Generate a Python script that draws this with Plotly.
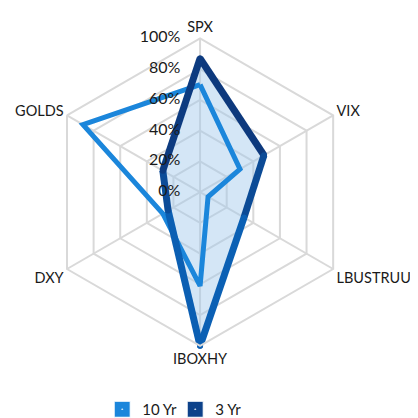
import math

import plotly.graph_objects as go

CATEGORIAS = ["SPX", "VIX", "LBUSTRUU", "IBOXHY", "DXY", "GOLDS"]
DEZ_ANOS = [0.70, 0.30, 0.06, 0.61, 0.28, 0.88]
TRES_ANOS = [0.87, 0.48, 0.33, 1.00, 0.24, 0.28]
TICKS = [0, 0.2, 0.4, 0.6, 0.8, 1.0]
TICK_TXT = ["0%", "20%", "40%", "60%", "80%", "100%"]

AZUL = "#1B86DB"
MARINHO = (14, 42, 104)     # topo do gradiente da linha 3 Yr
AZUL_VIVO = (10, 110, 200)  # base do gradiente
PREENCH = "rgba(160,200,234,0.45)"
GRADE = "#D9D9D9"
TINTA = "#1A1A1A"
FONTE = "Lato, 'Open Sans', sans-serif"
DOMINIO = dict(x=[0.0, 0.919], y=[0.180, 0.926])


def _fechar(v):
    return list(v) + [v[0]]


def _cor(t):
    c = [round(a + (b - a) * t) for a, b in zip(MARINHO, AZUL_VIVO)]
    return "rgb(%d,%d,%d)" % tuple(c)


def _tom(i, r):
    # posição vertical do vértice (rotation 90, sentido horário) -> 0 topo, 1 base
    ang = math.radians(90 - 60 * i)
    return (1 - r * math.sin(ang)) / 2


cats = _fechar(CATEGORIAS)

fig = go.Figure()
fig.add_scatterpolar(r=_fechar(TRES_ANOS), theta=cats, mode="none", fill="toself",
                     fillcolor=PREENCH, showlegend=False, hoverinfo="skip")
fig.add_scatterpolar(r=_fechar(DEZ_ANOS), theta=cats, mode="lines", name="10 Yr",
                     line=dict(color=AZUL, width=5), showlegend=False)

# linha 3 Yr em trechos, para imitar o degradê vertical
n = len(CATEGORIAS)
for i in range(n):
    j = (i + 1) % n
    t = (_tom(i, TRES_ANOS[i]) + _tom(j, TRES_ANOS[j])) / 2
    cor = _cor(t)
    fig.add_scatterpolar(r=[TRES_ANOS[i], TRES_ANOS[j]],
                         theta=[CATEGORIAS[i], CATEGORIAS[j]], mode="lines+markers",
                         line=dict(color=cor, width=7),
                         marker=dict(size=6, color=cor),
                         showlegend=False, hoverinfo="skip")

# rótulos do eixo radial num segundo polar (circular, invisível) no mesmo domínio:
# no polar hexagonal o plotly esconde o ponto r=0 e o "0%" sumia.
# o marcador transparente só serve para afastar o texto do eixo.
fig.add_scatterpolar(r=TICKS, theta=[CATEGORIAS[0]] * len(TICKS), subplot="polar2",
                     mode="markers+text", text=TICK_TXT, textposition="middle left",
                     marker=dict(size=30, color="rgba(0,0,0,0)"),
                     textfont=dict(size=16, color=TINTA), showlegend=False,
                     hoverinfo="skip", cliponaxis=False)

# itens da legenda (quadrado com ponto branco no meio)
for nome, cor in [("10 Yr", AZUL), ("3 Yr", _cor(0.35))]:
    fig.add_scatterpolar(r=[None], theta=[CATEGORIAS[0]], mode="markers", name=nome,
                         marker=dict(symbol="square-dot", size=16, color=cor,
                                     line=dict(color="white", width=1)))

fig.update_layout(
    width=418, height=418,
    paper_bgcolor="white", plot_bgcolor="white",
    font=dict(family=FONTE, color=TINTA, size=15),
    margin=dict(l=0, r=0, t=0, b=0),
    showlegend=True,
    legend=dict(orientation="h", x=0.40, xanchor="center", y=0.025, yanchor="middle",
                font=dict(size=15), itemwidth=30, entrywidth=28,
                entrywidthmode="pixels"),
    polar=dict(
        domain=DOMINIO,
        gridshape="linear",
        bgcolor="white",
        angularaxis=dict(rotation=90, direction="clockwise", showline=True,
                         linecolor=GRADE, linewidth=2, gridcolor=GRADE, gridwidth=2,
                         ticks="", tickfont=dict(size=14.5)),
        radialaxis=dict(range=[0, 1], tickvals=TICKS, showticklabels=False,
                        angle=90, showline=False, gridcolor=GRADE, gridwidth=2,
                        ticks=""),
    ),
    polar2=dict(
        domain=DOMINIO,
        bgcolor="rgba(0,0,0,0)",
        angularaxis=dict(rotation=90, direction="clockwise", visible=False,
                         categoryarray=CATEGORIAS, categoryorder="array"),
        radialaxis=dict(range=[0, 1], visible=False),
    ),
)

fig.write_html("out.html")
